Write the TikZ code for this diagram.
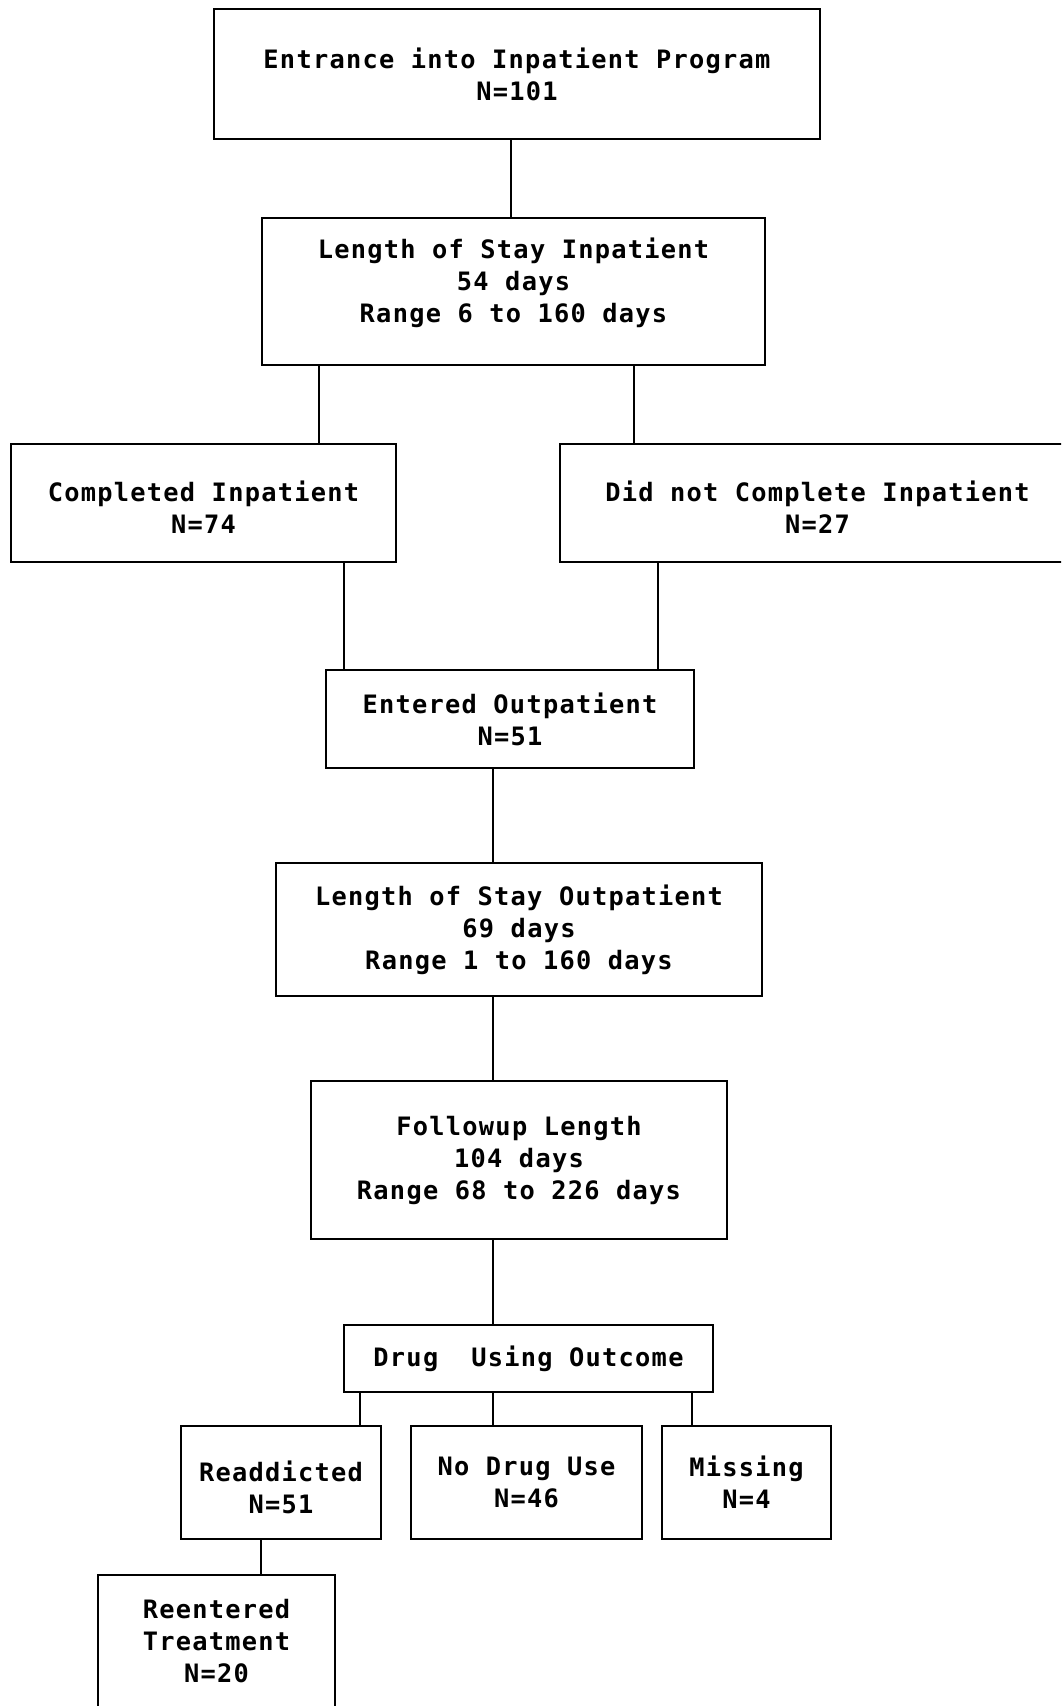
\documentclass[tikz,border=0pt]{standalone}
\usepackage{fontspec}
\setmonofont[LetterSpace=5]{DejaVu Sans Mono}
\begin{document}
\begin{tikzpicture}[x=0.75pt,y=-0.75pt,
  box/.style={draw,line width=2pt,align=center,inner sep=0pt,
    font=\ttfamily\bfseries\fontsize{19pt}{24pt}\selectfont},
  conn/.style={line width=2pt}]
\useasboundingbox (0,0) rectangle (1061,1706);
\clip (0,0) rectangle (1061,1706);
\node[box,minimum width=454.5pt,minimum height=97.5pt] (b1) at (517,74)
  {Entrance into Inpatient Program\\N=101};
\node[box,minimum width=377.25pt,minimum height=110.25pt] (b2) at (513.5,291.5)
  {Length of Stay Inpatient\\54 days\\Range 6 to 160 days\rule[-17pt]{0pt}{0pt}};
\node[box,minimum width=288.75pt,minimum height=88.5pt] (b3) at (203.5,503)
  {\rule{0pt}{22pt}Completed Inpatient\\N=74};
\node[box,minimum width=386.25pt,minimum height=88.5pt] (b4) at (817.5,503)
  {\rule{0pt}{22pt}Did not Complete Inpatient\\N=27};
\node[box,minimum width=276pt,minimum height=73.5pt] (b5) at (510,719)
  {Entered Outpatient\\N=51};
\node[box,minimum width=364.5pt,minimum height=99.75pt] (b6) at (519,929.5)
  {Length of Stay Outpatient\\69 days\\Range 1 to 160 days};
\node[box,minimum width=312pt,minimum height=118.5pt] (b7) at (519,1160)
  {Followup Length\\104 days\\Range 68 to 226 days};
\node[box,minimum width=276.75pt,minimum height=50.25pt] (b8) at (528.5,1358.5)
  {Drug\ \ Using Outcome};
\node[box,minimum width=150pt,minimum height=84.75pt] (b9) at (281,1482.5)
  {\rule{0pt}{22pt}Readdicted\\N=51};
\node[box,minimum width=173.25pt,minimum height=84.75pt] (b10) at (526.5,1482.5)
  {No Drug Use\\N=46};
\node[box,minimum width=126.75pt,minimum height=84.75pt] (b11) at (746.5,1482.5)
  {Missing\\N=4};
\node[box,minimum width=177.75pt,minimum height=99pt] (b12) at (216.5,1641)
  {Reentered\\Treatment\\N=20};
\draw[conn] (b1.south -| 511,0) -- (b2.north -| 511,0);
\draw[conn] (b2.south -| 319,0) -- (b3.north -| 319,0);
\draw[conn] (b2.south -| 634,0) -- (b4.north -| 634,0);
\draw[conn] (b3.south -| 344,0) -- (b5.north -| 344,0);
\draw[conn] (b4.south -| 658,0) -- (b5.north -| 658,0);
\draw[conn] (b5.south -| 493,0) -- (b6.north -| 493,0);
\draw[conn] (b6.south -| 493,0) -- (b7.north -| 493,0);
\draw[conn] (b7.south -| 493,0) -- (b8.north -| 493,0);
\draw[conn] (b8.south -| 360,0) -- (b9.north -| 360,0);
\draw[conn] (b8.south -| 493,0) -- (b10.north -| 493,0);
\draw[conn] (b8.south -| 692,0) -- (b11.north -| 692,0);
\draw[conn] (b9.south -| 261,0) -- (b12.north -| 261,0);
\end{tikzpicture}
\end{document}
